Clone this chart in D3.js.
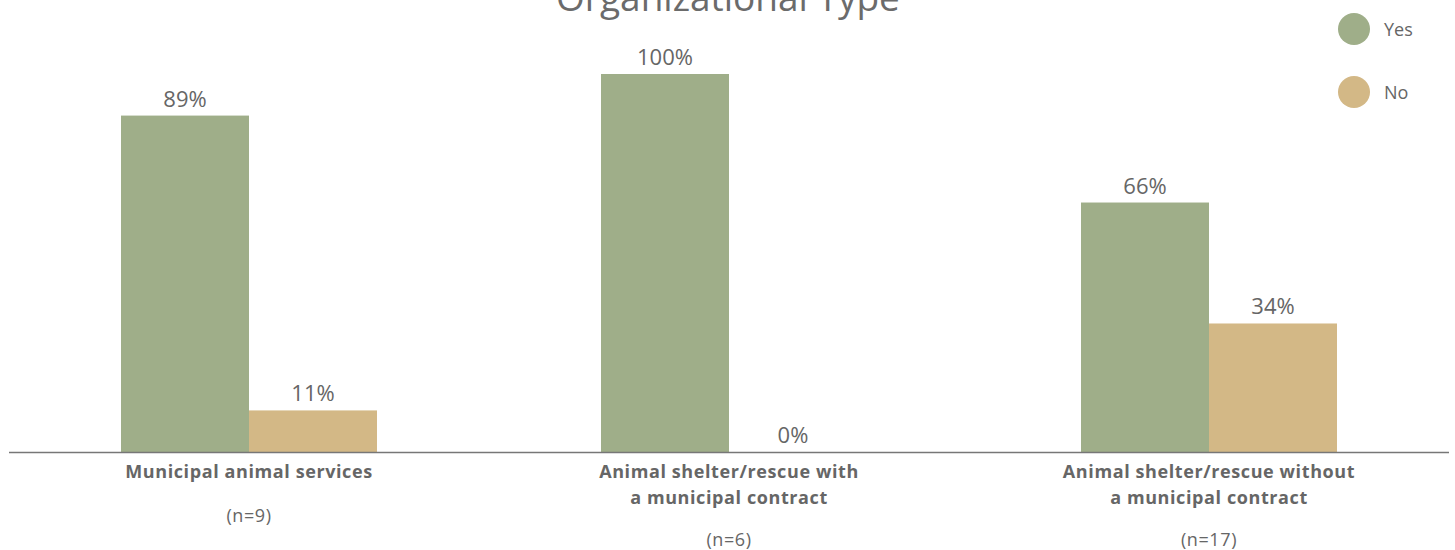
<!DOCTYPE html>
<html lang="en">
<head>
    <meta charset="UTF-8">
    <title>Organizational Type</title>
    <script src="https://d3js.org/d3.v7.min.js"></script>
    <style>
        body { margin: 0; background: #fff; }
        svg { display: block; font-family: "Open Sans", "Noto Sans", sans-serif; }
    </style>
</head>
<body>
    <div id="chart"></div>
    <script>
        const categories = [
            ["Municipal animal services"],
            ["Animal shelter/rescue with", "a municipal contract"],
            ["Animal shelter/rescue without", "a municipal contract"]
        ];
        const sampleSizes = ["(n=9)", "(n=6)", "(n=17)"];
        const seriesNames = ["Yes", "No"];
        const yesValues = [89, 100, 66];
        const noValues = [11, 0, 34];
        const colors = ["#9fae89", "#d3b886"];

        const width = 1455, height = 550;
        const baseY = 452;

        const svg = d3.select("#chart").append("svg")
            .attr("width", width)
            .attr("height", height);

        const x0 = d3.scaleBand()
            .domain(d3.range(categories.length))
            .range([9, 1449]);

        const x1 = d3.scaleBand()
            .domain(seriesNames)
            .range([x0.bandwidth() / 2 - 128, x0.bandwidth() / 2 + 128]);

        const y = d3.scaleLinear()
            .domain([0, 100])
            .range([baseY, baseY - 378]);

        // title, cut off at the top like the original
        svg.append("text")
            .attr("x", 728)
            .attr("y", 11)
            .attr("text-anchor", "middle")
            .attr("fill", "#6b6b6b")
            .attr("font-size", 37)
            .text("Organizational Type");

        const data = categories.map((c, i) => ({
            i: i,
            values: [
                { key: "Yes", value: yesValues[i] },
                { key: "No", value: noValues[i] }
            ]
        }));

        const groups = svg.selectAll(".group")
            .data(data)
            .enter()
            .append("g")
            .attr("transform", d => `translate(${x0(d.i)},0)`);

        groups.selectAll("rect")
            .data(d => d.values)
            .enter()
            .append("rect")
            .attr("x", d => x1(d.key))
            .attr("y", d => y(d.value))
            .attr("width", x1.bandwidth())
            .attr("height", d => baseY - y(d.value))
            .attr("fill", (d, j) => colors[j]);

        groups.selectAll(".val")
            .data(d => d.values)
            .enter()
            .append("text")
            .attr("x", d => x1(d.key) + x1.bandwidth() / 2)
            .attr("y", d => y(d.value) - 9)
            .attr("text-anchor", "middle")
            .attr("fill", "#666")
            .attr("font-size", 22)
            .text(d => d.value + "%");

        // baseline
        svg.append("line")
            .attr("x1", 9)
            .attr("x2", 1449)
            .attr("y1", baseY + 0.5)
            .attr("y2", baseY + 0.5)
            .attr("stroke", "#777")
            .attr("stroke-width", 1.5);

        // category labels + sample sizes
        groups.each(function(d) {
            const g = d3.select(this);
            const cx = x0.bandwidth() / 2;
            const lines = categories[d.i];
            lines.forEach((t, k) => {
                g.append("text")
                    .attr("x", cx)
                    .attr("y", 478 + k * 26)
                    .attr("text-anchor", "middle")
                    .attr("fill", "#666")
                    .attr("font-size", 18)
                    .attr("font-weight", "bold")
                    .attr("letter-spacing", 0.6)
                    .text(t);
            });
            g.append("text")
                .attr("x", cx)
                .attr("y", 522 + (lines.length - 1) * 24)
                .attr("text-anchor", "middle")
                .attr("fill", "#666")
                .attr("font-size", 18)
                .attr("letter-spacing", 0.6)
                .text(sampleSizes[d.i]);
        });

        // legend
        const legend = svg.selectAll(".legend")
            .data(seriesNames)
            .enter()
            .append("g")
            .attr("transform", (d, i) => `translate(1354,${29 + i * 63})`);

        legend.append("circle")
            .attr("r", 16)
            .attr("fill", (d, i) => colors[i]);

        legend.append("text")
            .attr("x", 30)
            .attr("y", 7)
            .attr("fill", "#666")
            .attr("font-size", 18)
            .text(d => d);
    </script>
</body>
</html>
